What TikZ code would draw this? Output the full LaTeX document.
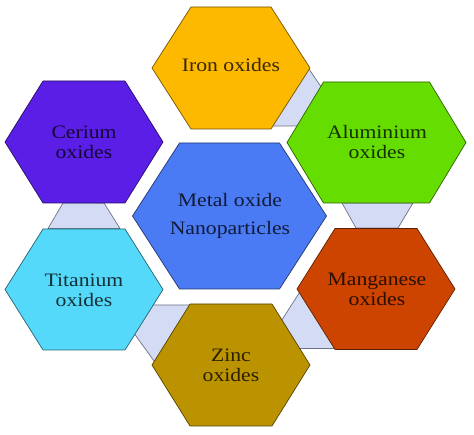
\documentclass[tikz,border=0pt]{standalone}
\usepackage{fontspec}
\setmainfont{Liberation Serif}[FakeStretch=1.14]
\definecolor{ironC}{HTML}{FDB800}
\definecolor{ceriumC}{HTML}{5B1EE6}
\definecolor{aluC}{HTML}{66DD00}
\definecolor{metalC}{HTML}{4A7BF5}
\definecolor{titanC}{HTML}{55D9FA}
\definecolor{manganC}{HTML}{CC4400}
\definecolor{zincC}{HTML}{BB9300}
\definecolor{linkC}{HTML}{D4DBF4}
\definecolor{linkLine}{HTML}{6E7386}
\newcommand\hexpath[6]{%
  \path[shift={(#1,#2)},#6] (-#3,0) -- (-#5,-#4) -- (#5,-#4) -- (#3,0) -- (#5,#4) -- (-#5,#4) -- cycle;}
\tikzset{
  hexbox/.style={draw=#1!45!black, fill=#1, line width=0.7pt, line join=round},
  linkbox/.style={draw=linkLine, fill=linkC, line width=0.7pt, line join=round},
  lbl/.style={align=center, font=\fontsize{19}{20}\selectfont, text=#1!22!black, inner sep=0pt}
}
\begin{document}
\begin{tikzpicture}[x=1pt,y=-1pt]
\useasboundingbox (0,0) rectangle (474,435);
% connector bands
\path[linkbox] (309,69) -- (330,100) -- (305,126) -- (265,126) -- cycle;
\path[linkbox] (63,203) -- (104,203) -- (120,228.5) -- (48,228.5) -- cycle;
\path[linkbox] (342,203) -- (413,203) -- (398,228) -- (356,228) -- cycle;
\path[linkbox] (145,305) -- (195,305) -- (162,372) -- (128,325) -- cycle;
\path[linkbox] (276,329) -- (305,284) -- (345,320) -- (345,348.5) -- (290,348.5) -- cycle;
% hexagons
\hexpath{231}{68}{79}{61}{40}{hexbox=ironC}
\hexpath{84}{142}{79}{61}{41}{hexbox=ceriumC}
\hexpath{376.5}{142.5}{89.5}{60.5}{53}{hexbox=aluC}
\hexpath{229.5}{216}{97}{73}{50}{hexbox=metalC}
\hexpath{84}{289.5}{79}{60.5}{41}{hexbox=titanC}
\hexpath{376}{289}{79}{60.5}{41}{hexbox=manganC}
\hexpath{231}{365}{79}{61}{41}{hexbox=zincC}
% labels
\node[lbl=ironC] (iron) at (231,65) {Iron oxides};
\node[lbl=ceriumC] (cerium) at (84,142) {Cerium\\oxides};
\node[lbl=aluC] (alu) at (377,142) {Aluminium\\oxides};
\node[lbl=metalC, font=\fontsize{19}{28}\selectfont] (metal) at (230,216) {Metal oxide\\Nanoparticles};
\node[lbl=titanC] (titan) at (84,290) {Titanium\\oxides};
\node[lbl=manganC] (mangan) at (377,289) {Manganese\\oxides};
\node[lbl=zincC] (zinc) at (231,365) {Zinc\\oxides};
\end{tikzpicture}
\end{document}
